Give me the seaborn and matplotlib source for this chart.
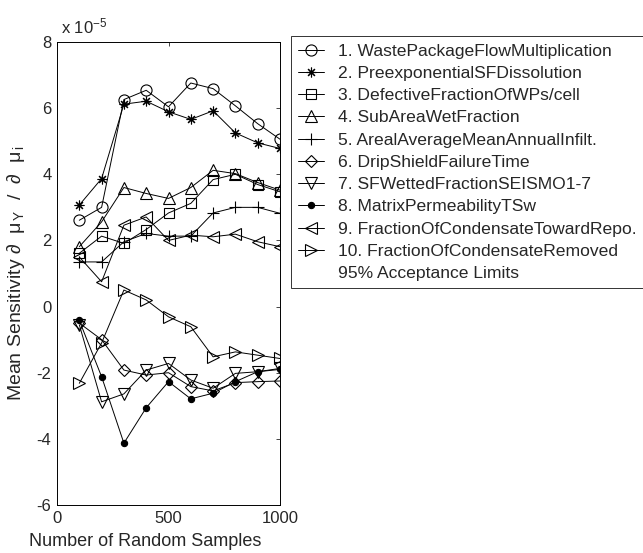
import numpy as np
import pandas as pd
import matplotlib
matplotlib.use("Agg")
import matplotlib.pyplot as plt
from matplotlib.lines import Line2D
import seaborn as sns

# data (units of 1e-5)
samples = [100, 200, 300, 400, 500, 600, 700, 800, 900, 1000]

labels = [
    "1. WastePackageFlowMultiplication",
    "2. PreexponentialSFDissolution",
    "3. DefectiveFractionOfWPs/cell",
    "4. SubAreaWetFraction",
    "5. ArealAverageMeanAnnualInfilt.",
    "6. DripShieldFailureTime",
    "7. SFWettedFractionSEISMO1-7",
    "8. MatrixPermeabilityTSw",
    "9. FractionOfCondensateTowardRepo.",
    "10. FractionOfCondensateRemoved",
]

s1 = [2.61, 3.00, 6.26, 6.54, 6.04, 6.76, 6.59, 6.07, 5.53, 5.06]
s2 = [3.07, 3.87, 6.12, 6.21, 5.89, 5.66, 5.92, 5.25, 4.95, 4.78]
s3 = [1.61, 2.13, 1.91, 2.33, 2.83, 3.12, 3.84, 4.00, 3.69, 3.47]
s4 = [1.81, 2.56, 3.60, 3.42, 3.27, 3.60, 4.12, 4.02, 3.75, 3.52]
s5 = [1.35, 1.35, 1.96, 2.21, 2.13, 2.13, 2.83, 3.00, 3.00, 2.82]
s6 = [-0.50, -1.00, -1.92, -2.07, -2.00, -2.42, -2.55, -2.30, -2.27, -2.25]
s7 = [-0.55, -2.88, -2.64, -1.92, -1.72, -2.22, -2.47, -2.02, -1.97, -1.87]
s8 = [-0.42, -2.12, -4.13, -3.06, -2.27, -2.79, -2.62, -2.27, -1.97, -1.90]
s9 = [1.50, 0.75, 2.46, 2.71, 2.00, 2.16, 2.11, 2.19, 1.96, 1.81]
s10 = [-2.32, -1.10, 0.50, 0.20, -0.31, -0.61, -1.52, -1.37, -1.47, -1.57]

series = [s1, s2, s3, s4, s5, s6, s7, s8, s9, s10]
markers = ["o", (8, 2, 0), "s", "^", "+", "D", "v", "o", "<", ">"]
filled = [False, True, False, False, True, False, False, True, False, False]
msizes = [8, 7, 7, 8, 8, 6, 8, 4.5, 8, 8]

sns.set_style("white")
plt.rcParams["font.family"] = ["Liberation Sans", "DejaVu Sans"]
plt.rcParams["mathtext.fontset"] = "custom"
plt.rcParams["mathtext.rm"] = "Liberation Sans"
plt.rcParams["mathtext.it"] = "Liberation Sans"
plt.rcParams["axes.unicode_minus"] = False

fig = plt.figure(figsize=(6.43, 5.53), dpi=100)
ax = fig.add_axes([57 / 643, 48 / 553, 223 / 643, 463 / 553])

handles = []
for vals, lab, m, f, ms in zip(series, labels, markers, filled, msizes):
    df = pd.DataFrame({"n": samples, "v": vals})
    sns.lineplot(data=df, x="n", y="v", ax=ax, color="black", lw=0.7,
                 marker=m, markersize=ms, markeredgecolor="black",
                 markerfacecolor="black" if f else "none",
                 markeredgewidth=0.8, legend=False)
    handles.append(Line2D([], [], color="black", lw=0.7, marker=m, markersize=ms,
                          markeredgecolor="black",
                          markerfacecolor="black" if f else "none",
                          markeredgewidth=0.8, label=lab))
handles.append(Line2D([], [], color="none", label="95% Acceptance Limits"))

ax.set_xlim(0, 1000)
ax.set_ylim(-6, 8)
ax.set_xticks([0, 500, 1000])
ax.set_yticks([-6, -4, -2, 0, 2, 4, 6, 8])
ax.tick_params(direction="in", top=True, right=True, length=3, width=0.6,
               labelsize=12, pad=4)
for sp in ax.spines.values():
    sp.set_color("black")
    sp.set_linewidth(0.7)

ax.set_xlabel("Number of Random Samples", fontsize=13)
ax.xaxis.set_label_coords(0.395, -0.06)
ax.set_ylabel(r"Mean Sensitivity $\partial\ \ \mu_{\,Y}\ \ /\ \ \partial\ \ \mu_{\,i}$", fontsize=14)
ax.yaxis.set_label_coords(-0.135, 0.5)
ax.text(0.02, 1.012, r"x 10$^{-5}$", transform=ax.transAxes, fontsize=12,
        ha="left", va="bottom")

leg = fig.legend(handles=handles, loc="upper left",
                 bbox_to_anchor=(291 / 643, 1 - 42 / 553, 380 / 643, 0.01),
                 bbox_transform=fig.transFigure, mode="expand",
                 frameon=True, fancybox=False,
                 edgecolor="black", fontsize=12.6, handlelength=1.5,
                 handletextpad=0.8, labelspacing=0.4, borderpad=0.4,
                 borderaxespad=0)
leg.get_frame().set_linewidth(0.7)

fig.savefig("out.png", dpi=100)
